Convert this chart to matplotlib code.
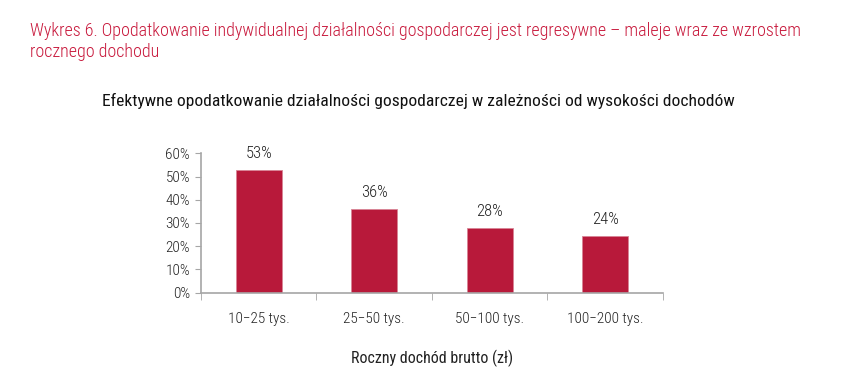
import numpy as np
import matplotlib
matplotlib.use("Agg")
from matplotlib import pyplot as plt
from matplotlib.ticker import FixedLocator, PercentFormatter

categories = ["10\u221225 tys.", "25\u221250 tys.", "50\u2212100 tys.", "100\u2212200 tys."]
values = [52.7, 36.0, 27.7, 24.3]
labels = ["53%", "36%", "28%", "24%"]

plt.rcParams['font.family'] = ['Roboto Condensed', 'DejaVu Sans']
plt.rcParams['font.weight'] = 300

red = "#B8193A"
grey = "#A6A6A6"

fig = plt.figure(figsize=(8.43, 3.72), dpi=100)
ax = fig.add_axes([0.2384, 0.2132, 0.548, 0.3747])

x = np.arange(len(categories))
ax.bar(x, values, width=0.4, color=red, edgecolor="#D88596", linewidth=0.6)
for xi, v, lab in zip(x, values, labels):
    ax.text(xi, v + 4, lab, ha="center", va="bottom", fontsize=12, color="#222222")

ax.set_xlim(-0.5, len(categories) - 0.5)
ax.set_ylim(0, 60)
ax.set_yticks(range(0, 61, 10))
ax.yaxis.set_major_formatter(PercentFormatter(decimals=0))
ax.set_xticks(x)
ax.set_xticklabels(categories)
ax.xaxis.set_minor_locator(FixedLocator(np.arange(-0.5, len(categories), 1.0)))
ax.tick_params(axis="x", which="major", length=0, pad=14, labelsize=11, colors="#222222")
ax.tick_params(axis="x", which="minor", length=5, color=grey, direction="out")
ax.tick_params(axis="y", length=4, color=grey, labelsize=11, labelcolor="#222222", pad=4)
for side in ["top", "right"]:
    ax.spines[side].set_visible(False)
ax.spines["left"].set_color(grey)
ax.spines["bottom"].set_color(grey)
ax.spines["left"].set_linewidth(1.2)
ax.spines["bottom"].set_linewidth(1.2)

ax.set_xlabel("Roczny doch\u00f3d brutto (z\u0142)", fontsize=11.5, labelpad=17, color="#222222", weight=400)

fig.text(30 / 843, 1 - 31 / 372, "Wykres 6. Opodatkowanie indywidualnej dzia\u0142alno\u015bci gospodarczej jest regresywne \u2013 maleje wraz ze wzrostem",
         fontsize=12.95, color="#C8193C", va="center", ha="left")
fig.text(30 / 843, 1 - 52 / 372, "rocznego dochodu",
         fontsize=12.95, color="#C8193C", va="center", ha="left")
fig.text(418 / 843, 1 - 101 / 372, "Efektywne opodatkowanie dzia\u0142alno\u015bci gospodarczej w zale\u017cno\u015bci od wysoko\u015bci dochod\u00f3w",
         fontsize=12.6, color="#111111", va="center", ha="center", weight=400)

fig.savefig("out.png", dpi=100)
